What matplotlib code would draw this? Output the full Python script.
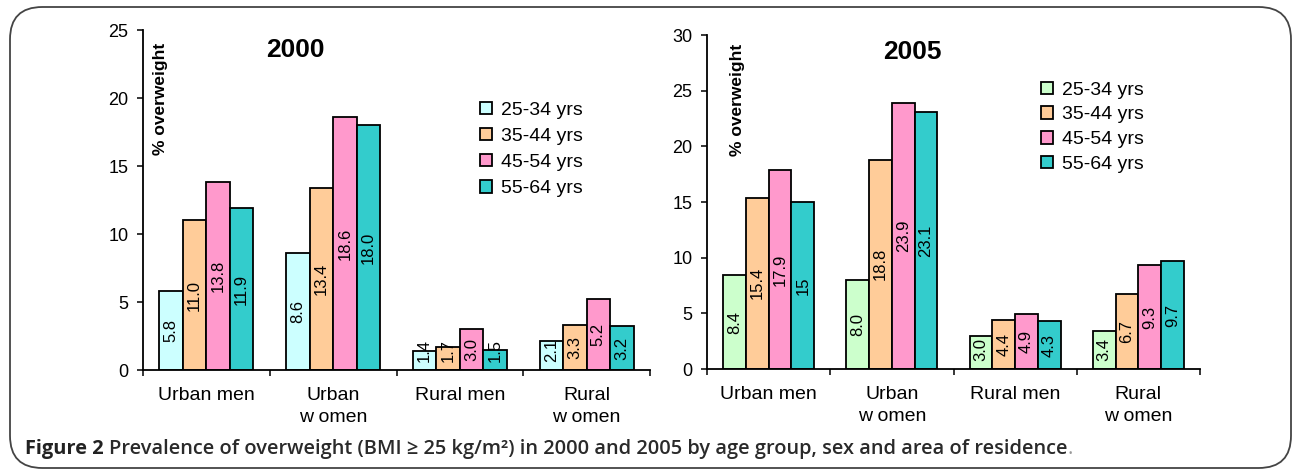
import matplotlib
matplotlib.use("Agg")
import matplotlib.pyplot as plt
from matplotlib.patches import FancyBboxPatch, Patch
import numpy as np

categories = ["Urban men", "Urban\nw omen", "Rural men", "Rural\nw omen"]
age_groups = ["25-34 yrs", "35-44 yrs", "45-54 yrs", "55-64 yrs"]

# 2000 values by age group (rows) x category (columns)
v2000_25_34 = [5.8, 8.6, 1.4, 2.1]
v2000_35_44 = [11.0, 13.4, 1.7, 3.3]
v2000_45_54 = [13.8, 18.6, 3.0, 5.2]
v2000_55_64 = [11.9, 18.0, 1.5, 3.2]
labels2000_25_34 = ["5.8", "8.6", "1.4", "2.1"]
labels2000_35_44 = ["11.0", "13.4", "1.7", "3.3"]
labels2000_45_54 = ["13.8", "18.6", "3.0", "5.2"]
labels2000_55_64 = ["11.9", "18.0", "1.5", "3.2"]

v2005_25_34 = [8.4, 8.0, 3.0, 3.4]
v2005_35_44 = [15.4, 18.8, 4.4, 6.7]
v2005_45_54 = [17.9, 23.9, 4.9, 9.3]
v2005_55_64 = [15.0, 23.1, 4.3, 9.7]
labels2005_25_34 = ["8.4", "8.0", "3.0", "3.4"]
labels2005_35_44 = ["15.4", "18.8", "4.4", "6.7"]
labels2005_45_54 = ["17.9", "23.9", "4.9", "9.3"]
labels2005_55_64 = ["15", "23.1", "4.3", "9.7"]

colors2000 = ["#CCFFFF", "#FFCC99", "#FF99CC", "#33CCCC"]
colors2005 = ["#CCFFCC", "#FFCC99", "#FF99CC", "#33CCCC"]

W, H = 1292, 469
fig = plt.figure(figsize=(W / 100, H / 100), dpi=100)
plt.rcParams['font.family'] = ['Liberation Sans', 'DejaVu Sans']


def panel(rect, series, labels, colors, ymax, title, title_pos, ylab_pos,
          leg_anchor, leg_spacing):
    ax = fig.add_axes(rect)
    n = len(series)
    bw = 0.185
    x = np.arange(len(categories))
    texts = []
    for i, (vals, labs) in enumerate(zip(series, labels)):
        xs = x + (i - (n - 1) / 2) * bw
        ax.bar(xs, vals, width=bw, color=colors[i], edgecolor="black",
               linewidth=1.3, zorder=2)
        for xx, vv, ll in zip(xs, vals, labs):
            t = ax.text(xx, vv / 2, ll, rotation=90, ha="center", va="center",
                        fontsize=12, color="black", zorder=3)
            texts.append((t, xx))
    ax.set_xlim(-0.5, len(categories) - 0.5)
    ax.set_ylim(0, ymax)
    ax.set_yticks(np.arange(0, ymax + 1, 5))
    ax.set_xticks(np.arange(len(categories) + 1) - 0.5)
    ax.set_xticklabels([])
    ax.set_xticks(x, minor=True)
    ax.set_xticklabels(categories, minor=True, fontsize=14, linespacing=1.35)
    ax.tick_params(axis="x", which="major", direction="out", length=4.5,
                   width=1.1, color="black")
    ax.tick_params(axis="x", which="minor", length=0, pad=12.5)
    ax.tick_params(axis="y", direction="out", length=4.5, width=1.1,
                   labelsize=13, pad=6)
    for s in ["top", "right"]:
        ax.spines[s].set_visible(False)
    for s in ["left", "bottom"]:
        ax.spines[s].set_linewidth(1.3)
        ax.spines[s].set_color("black")
    ax.text(title_pos[0], title_pos[1], title, transform=ax.transAxes,
            fontsize=19, fontweight="bold", ha="center", va="center")
    ax.text(ylab_pos[0], ylab_pos[1], "% overweight", transform=ax.transAxes,
            fontsize=12.5, fontweight="bold", rotation=90, ha="center",
            va="center")
    handles = [Patch(facecolor=c, edgecolor="black", linewidth=1.3)
               for c in colors]
    ax.legend(handles, age_groups, loc="center left", bbox_to_anchor=leg_anchor,
              frameon=False, fontsize=14, handlelength=0.62,
              handleheight=0.62, handletextpad=0.45, labelspacing=leg_spacing,
              borderpad=0, borderaxespad=0)
    return ax, texts


ax1, t1 = panel([143 / W, (H - 370) / H, 507 / W, 340 / H],
                [v2000_25_34, v2000_35_44, v2000_45_54, v2000_55_64],
                [labels2000_25_34, labels2000_35_44, labels2000_45_54,
                 labels2000_55_64],
                colors2000, 25, "2000", (0.30, 0.94), (0.034, 0.797),
                (0.665, 0.649), 0.46)
ax2, t2 = panel([707 / W, (H - 369) / H, 493 / W, 334 / H],
                [v2005_25_34, v2005_35_44, v2005_45_54, v2005_55_64],
                [labels2005_25_34, labels2005_35_44, labels2005_45_54,
                 labels2005_55_64],
                colors2005, 30, "2005", (0.416, 0.949), (0.061, 0.805),
                (0.678, 0.724), 0.39)

# keep small-bar labels from touching the axis
fig.canvas.draw()
renderer = fig.canvas.get_renderer()
for ax, texts in [(ax1, t1), (ax2, t2)]:
    y0_px = ax.transData.transform((0, 0))[1]
    for t, xx in texts:
        bb = t.get_window_extent(renderer)
        min_bottom = y0_px + 8
        if bb.y0 < min_bottom:
            shift = min_bottom - bb.y0
            cy = (bb.y0 + bb.y1) / 2 + shift
            yd = ax.transData.inverted().transform((0, cy))[1]
            t.set_y(yd)

# rounded frame
frame = FancyBboxPatch((10 / W, 1 - 468 / H), (1291 - 10) / W, (468 - 7) / H,
                       boxstyle="round,pad=0,rounding_size=0.025",
                       transform=fig.transFigure, fill=False,
                       edgecolor="#444444", linewidth=1.3, zorder=0,
                       mutation_aspect=W / H)
fig.patches.append(frame)

cap_y = 1 - 449 / H
fam = ['Open Sans', 'DejaVu Sans']
cap_size = 14.4
t_a = fig.text(25 / W, cap_y, "Figure 2 ", fontsize=cap_size, fontweight="bold",
               family=fam, color="#222222", va="center", ha="left")
fig.canvas.draw()
bb = t_a.get_window_extent(renderer)
t_b = fig.text(bb.x1 / W, cap_y,
               "Prevalence of overweight (BMI \u2265 25 kg/m\u00b2) in 2000 and 2005 by age group, sex and area of residence",
               fontsize=cap_size, fontweight="semibold", family=fam,
               color="#2a2a2a", va="center", ha="left")
fig.canvas.draw()
bb2 = t_b.get_window_extent(renderer)
fig.text(bb2.x1 / W, cap_y, ".", fontsize=cap_size, family=fam,
         color="#999999", va="center", ha="left")

fig.savefig("out.png", dpi=100)
